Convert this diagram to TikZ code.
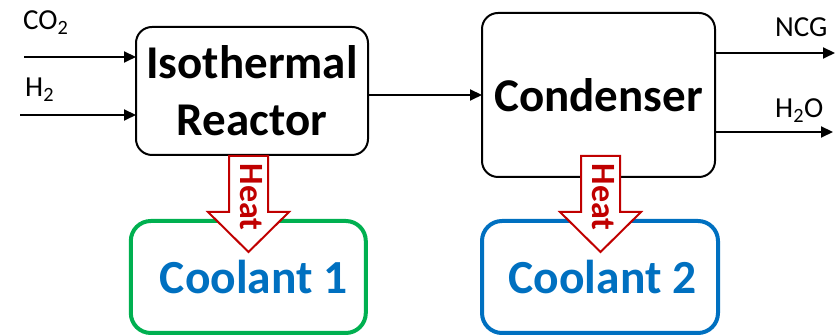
\documentclass[tikz,border=0pt]{standalone}
\usepackage{fontspec}
\setmainfont{Carlito}
\usetikzlibrary{arrows.meta, positioning}
\definecolor{heatred}{HTML}{C00000}
\definecolor{coolgreen}{HTML}{00B050}
\definecolor{coolblue}{HTML}{0070C0}

\begin{document}
\begin{tikzpicture}[x=1pt, y=1pt,
        box/.style={rectangle, draw, line width=2pt, outer sep=0pt, rounded corners=16pt, align=center, font=\fontsize{47}{57}\selectfont\bfseries},
        coolbox/.style={rectangle, draw, line width=4pt, outer sep=0pt, rounded corners=20pt, minimum height=112pt, text=coolblue, font=\fontsize{47.5}{57}\selectfont\bfseries},
        lbl/.style={inner sep=0pt, anchor=base west, font=\fontsize{29}{35}\selectfont},
        heatarrow/.style={draw=heatred, fill=white, line width=2pt},
        heatlbl/.style={rotate=-90, text=heatred, inner sep=0pt, font=\fontsize{34}{40}\selectfont\bfseries},
        flow/.style={line width=2pt},
        >={Triangle[length=12pt, width=11pt]}
    ]
        \useasboundingbox (0,0) rectangle (837,336);
        \node[box, minimum width=232pt, minimum height=128pt] (reactor) at (252,245) {Isothermal\\Reactor};
        \node[box, minimum width=233pt, minimum height=164pt, right=114pt of reactor, yshift=-4pt] (cond) {Condenser};
        \node[coolbox, draw=coolgreen, minimum width=235pt, below=66pt of reactor, xshift=-3.7pt] (cool1) {\hspace*{11pt}Coolant 1};
        \node[coolbox, draw=coolblue, minimum width=236pt, below=44pt of cond, xshift=1.5pt] (cool2) {\hspace*{5pt}Coolant 2};

        % feed and product streams
        \coordinate (co2in) at (24,279);
        \coordinate (h2in) at (20,221);
        \coordinate (ncgout) at (835,283);
        \coordinate (h2oout) at (833,204);
        \node[lbl] (co2lbl) at (23,306) {CO\textsubscript{2}};
        \node[lbl] (h2lbl) at (25,239) {H\textsubscript{2}};
        \node[lbl] (ncglbl) at (775,299) {NCG};
        \node[lbl] (h2olbl) at (775,218) {H\textsubscript{2}O};
        \draw[->, flow] (co2in) -- (co2in -| reactor.west);
        \draw[->, flow] (h2in) -- (h2in -| reactor.west);
        \draw[->, flow] (reactor.east |- cond.west) -- (cond.west);
        \draw[->, flow] (cond.east |- ncgout) -- (ncgout);
        \draw[->, flow] (cond.east |- h2oout) -- (h2oout);

        % heat to the coolants
        \coordinate (h1top) at ([xshift=-3.5pt, yshift=-1pt]reactor.south);
        \coordinate (h2top) at ([xshift=2pt]h1top -| cond.south);
        \draw[heatarrow] (h1top) ++(-19.5,0) -- ++(0,-56) -- ++(-21,0) -- ++(40.5,-40) -- ++(40.5,40) -- ++(-21,0) -- ++(0,56) -- cycle;
        \draw[heatarrow] (h2top) ++(-19.5,0) -- ++(0,-56) -- ++(-21,0) -- ++(40.5,-40) -- ++(40.5,40) -- ++(-21,0) -- ++(0,56) -- cycle;
        \node[heatlbl] (heat1) at ([xshift=2.5pt, yshift=-41pt]h1top) {Heat};
        \node[heatlbl] (heat2) at ([xshift=2.5pt, yshift=-41pt]h2top) {Heat};
    \end{tikzpicture}
\end{document}
